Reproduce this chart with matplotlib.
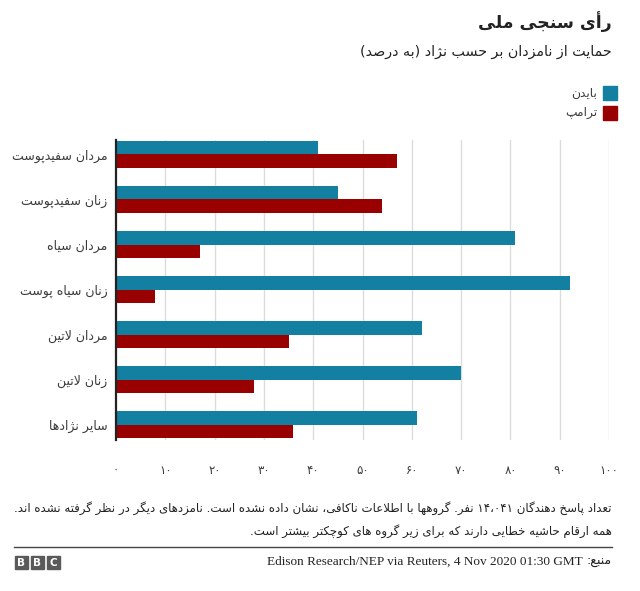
import matplotlib
matplotlib.use('Agg')
import matplotlib.pyplot as plt
from matplotlib.patches import Rectangle

# ---------------- data ----------------
categories = ['مردان سفیدپوست', 'زنان سفیدپوست', 'مردان سیاه', 'زنان سیاه پوست',
              'مردان لاتین', 'زنان لاتین', 'سایر نژادها']
biden = [41, 45, 81, 92, 62, 70, 61]
trump = [57, 54, 17, 8, 35, 28, 36]
series_names = ['بایدن', 'ترامپ']
xticks = [0, 10, 20, 30, 40, 50, 60, 70, 80, 90, 100]
xtick_labels = ['۰', '۱۰', '۲۰', '۳۰', '۴۰', '۵۰', '۶۰', '۷۰', '۸۰', '۹۰', '۱۰۰']
title = 'رأی سنجی ملی'
subtitle = 'حمایت از نامزدان بر حسب نژاد (به درصد)'
note1 = 'تعداد پاسخ دهندگان ۱۴،۰۴۱ نفر. گروهها با اطلاعات ناکافی، نشان داده نشده است. نامزدهای دیگر در نظر گرفته نشده اند.'
note2 = 'همه ارقام حاشیه خطایی دارند که برای زیر گروه های کوچکتر بیشتر است.'
source_label = 'منبع:'
source_text = 'Edison Research/NEP via Reuters, 4 Nov 2020 01:30 GMT'

# ---------------- minimal Persian shaping + RTL ordering ----------------
_B = [('ء', 0xFE80, 1), ('آ', 0xFE81, 2), ('أ', 0xFE83, 2), ('ؤ', 0xFE85, 2), ('إ', 0xFE87, 2),
      ('ئ', 0xFE89, 4), ('ا', 0xFE8D, 2), ('ب', 0xFE8F, 4), ('ة', 0xFE93, 2), ('ت', 0xFE95, 4),
      ('ث', 0xFE99, 4), ('ج', 0xFE9D, 4), ('ح', 0xFEA1, 4), ('خ', 0xFEA5, 4), ('د', 0xFEA9, 2),
      ('ذ', 0xFEAB, 2), ('ر', 0xFEAD, 2), ('ز', 0xFEAF, 2), ('س', 0xFEB1, 4), ('ش', 0xFEB5, 4),
      ('ص', 0xFEB9, 4), ('ض', 0xFEBD, 4), ('ط', 0xFEC1, 4), ('ظ', 0xFEC5, 4), ('ع', 0xFEC9, 4),
      ('غ', 0xFECD, 4), ('ف', 0xFED1, 4), ('ق', 0xFED5, 4), ('ك', 0xFED9, 4), ('ل', 0xFEDD, 4),
      ('م', 0xFEE1, 4), ('ن', 0xFEE5, 4), ('ه', 0xFEE9, 4), ('و', 0xFEED, 2), ('ى', 0xFEEF, 2),
      ('ي', 0xFEF1, 4), ('پ', 0xFB56, 4), ('چ', 0xFB7A, 4), ('ژ', 0xFB8A, 2), ('ک', 0xFB8E, 4),
      ('گ', 0xFB92, 4), ('ی', 0xFBFC, 4)]
FORMS = {}
for ch, base, n in _B:
    if n == 4:
        FORMS[ch] = (chr(base), chr(base + 1), chr(base + 2), chr(base + 3))
    elif n == 2:
        FORMS[ch] = (chr(base), chr(base + 1), None, None)
    else:
        FORMS[ch] = (chr(base), None, None, None)
DUAL = {c for c, b, n in _B if n == 4}
RIGHT = {c for c, b, n in _B if n == 2}
LAMALEF = {'آ': (0xFEF5, 0xFEF6), 'أ': (0xFEF7, 0xFEF8), 'إ': (0xFEF9, 0xFEFA), 'ا': (0xFEFB, 0xFEFC)}
DIGITS = set('0123456789۰۱۲۳۴۵۶۷۸۹٠١٢٣٤٥٦٧٨٩')
MIRROR = {'(': ')', ')': '(', '[': ']', ']': '[', '«': '»', '»': '«'}


def _shape(s):
    toks = []
    i = 0
    while i < len(s):
        c = s[i]
        if c == 'ل' and i + 1 < len(s) and s[i + 1] in LAMALEF:
            toks.append(('LA', s[i + 1]))
            i += 2
        else:
            toks.append(c)
            i += 1

    def can_join_prev(t):
        return isinstance(t, tuple) or t in DUAL or t in RIGHT

    out = []
    for j, t in enumerate(toks):
        prev = toks[j - 1] if j > 0 else None
        nxt = toks[j + 1] if j + 1 < len(toks) else None
        pj = (prev is not None and not isinstance(prev, tuple) and prev in DUAL
              and can_join_prev(t))
        if isinstance(t, tuple):
            iso, fin = LAMALEF[t[1]]
            out.append(chr(fin) if pj else chr(iso))
            continue
        if t not in FORMS:
            out.append(t)
            continue
        nj = t in DUAL and nxt is not None and can_join_prev(nxt)
        iso, fin, ini, med = FORMS[t]
        if pj and nj:
            out.append(med)
        elif pj:
            out.append(fin)
        elif nj:
            out.append(ini)
        else:
            out.append(iso)
    return ''.join(out)


def fa(s):
    """Shape Persian text and put it in visual (left-to-right) order."""
    s = _shape(s)
    segs = []
    i = 0
    while i < len(s):
        if s[i] in DIGITS:
            j = i
            while j < len(s) and (s[j] in DIGITS or (s[j] in '،,.' and j + 1 < len(s) and s[j + 1] in DIGITS)):
                j += 1
            segs.append(s[i:j])
            i = j
        else:
            segs.append(MIRROR.get(s[i], s[i]))
            i += 1
    return ''.join(reversed(segs))


# ---------------- figure ----------------
W, H = 640, 591
fig = plt.figure(figsize=(W / 100, H / 100), dpi=100)
FA_FONT = ['DejaVu Sans']


def fx(x):
    return x / W


def fy(y):
    return 1 - y / H


BLUE = '#1380A1'
RED = '#990000'
TXT = '#222222'
LAB = '#3c3c3c'

# axes: x 0..100 spans px 116..609, y spans px 140..440
ax = fig.add_axes([fx(116), fy(440), (609 - 116) / W, 300 / H])
n = len(categories)
ys = list(range(n))
bh = 0.3
ax.barh([y - bh / 2 for y in ys], biden, height=bh, color=BLUE, zorder=3)
ax.barh([y + bh / 2 for y in ys], trump, height=bh, color=RED, zorder=3)
ax.set_xlim(0, 100)
ax.set_ylim(n - 1 + 0.344, -0.322)
ax.set_xticks(xticks)
ax.set_xticklabels(xtick_labels, fontsize=8.5, color=LAB, family=FA_FONT)
ax.tick_params(axis='x', length=0, pad=17)
ax.set_yticks(ys)
ax.set_yticklabels([fa(c) for c in categories], fontsize=9, color=LAB, family=FA_FONT)
ax.tick_params(axis='y', length=0, pad=6)
for s in ['top', 'right', 'bottom']:
    ax.spines[s].set_visible(False)
ax.spines['left'].set_color('#222222')
ax.spines['left'].set_linewidth(1.6)
ax.spines['left'].set_zorder(5)
for x in xticks[1:]:
    ax.axvline(x, color='#dcdcdc', lw=1, zorder=1)

# title / subtitle
fig.text(fx(612), fy(22), fa(title), ha='right', va='center', fontsize=12.5,
         fontweight='bold', color=TXT, family=FA_FONT)
fig.text(fx(612), fy(52), fa(subtitle), ha='right', va='center', fontsize=10.3,
         color=TXT, family=FA_FONT)

# legend
for k, (nm, col) in enumerate(zip(series_names, [BLUE, RED])):
    yc = 93 + 20 * k
    fig.patches.append(Rectangle((fx(603), fy(yc + 7)), 14 / W, 14 / H,
                                 transform=fig.transFigure, color=col))
    fig.text(fx(597), fy(yc), fa(nm), ha='right', va='center', fontsize=8.8,
             color=LAB, family=FA_FONT)

# notes
fig.text(fx(612), fy(508), fa(note1), ha='right', va='center', fontsize=8.5,
         color=TXT, family=FA_FONT)
fig.text(fx(612), fy(531), fa(note2), ha='right', va='center', fontsize=8.5,
         color=TXT, family=FA_FONT)

# rule
fig.add_artist(plt.Line2D([fx(14), fx(612)], [fy(547), fy(547)], color='#444444', lw=1,
                          transform=fig.transFigure))

# BBC blocks
for k, letter in enumerate('BBC'):
    x0 = 15 + 16 * k
    fig.patches.append(Rectangle((fx(x0), fy(569)), 13 / W, 13 / H,
                                 transform=fig.transFigure, color='#5a5a5a'))
    fig.text(fx(x0 + 6.5), fy(562.5), letter, ha='center', va='center', fontsize=7.5,
             fontweight='bold', color='white', family='DejaVu Sans')

# source line
t_fa = fig.text(fx(612), fy(562), fa(source_label), ha='right', va='center', fontsize=9,
                color=TXT, family=FA_FONT)
fig.canvas.draw()
bb = t_fa.get_window_extent(renderer=fig.canvas.get_renderer())
fig.text((bb.x0 - 4) / W, fy(562), source_text, ha='right', va='center', fontsize=9.5,
         color=TXT, family='Liberation Serif')

fig.savefig('out.png', dpi=100, facecolor='white')
